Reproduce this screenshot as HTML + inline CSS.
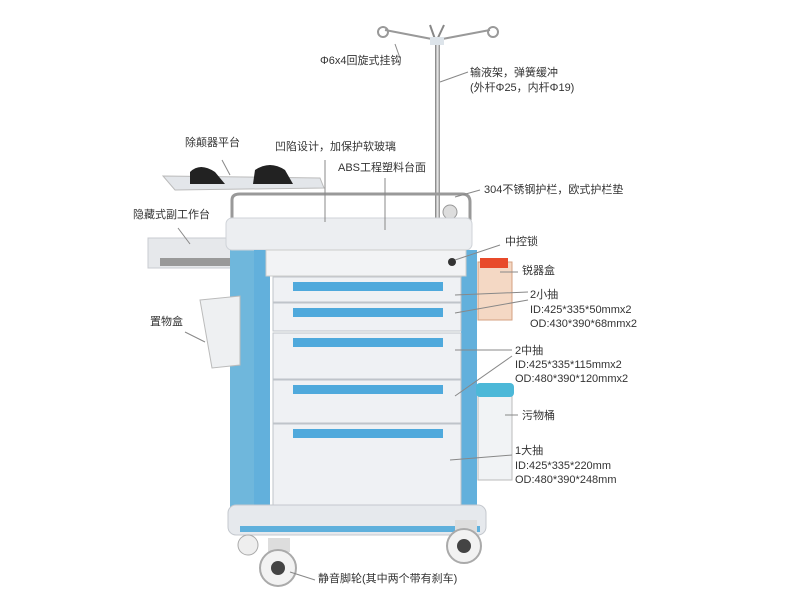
<!DOCTYPE html>
<html><head><meta charset="utf-8">
<style>
html,body{margin:0;padding:0;background:#fff;}
#c{position:relative;width:800px;height:600px;overflow:hidden;background:#fff;font-family:"Liberation Sans","Noto Sans CJK SC",sans-serif;font-size:11px;color:#333;}
.t{position:absolute;white-space:nowrap;line-height:14px;}
</style></head><body><div id="c">
<svg width="800" height="600" style="position:absolute;left:0;top:0">
<defs>
<linearGradient id="m" x1="0" x2="1"><stop offset="0" stop-color="#777"/><stop offset=".5" stop-color="#eee"/><stop offset="1" stop-color="#888"/></linearGradient>
</defs>
<!-- IV pole -->
<rect x="435" y="38" width="5" height="185" fill="url(#m)"/>
<path d="M437 40 L385 30 M437 40 L490 30" stroke="#999" stroke-width="2" fill="none"/>
<circle cx="383" cy="32" r="5" fill="none" stroke="#999" stroke-width="2"/>
<circle cx="493" cy="32" r="5" fill="none" stroke="#999" stroke-width="2"/>
<path d="M430 25 L436 42 L444 25" stroke="#888" stroke-width="2" fill="none"/>
<rect x="430" y="37" width="14" height="8" fill="#dde4ea"/>
<!-- defib tray -->
<path d="M163 176 L320 178 L324 188 L175 190 Z" fill="#e3e6ea" stroke="#bbb"/>
<path d="M190 172 q10-10 25 0 l10 12 l-35 0z M255 170 q15-10 30 0 l8 14 l-40 0z" fill="#222"/>
<!-- rail -->
<path d="M232 222 L232 200 Q232 194 240 194 L462 194 Q470 194 470 202 L470 222" stroke="#999" stroke-width="3" fill="none"/>
<circle cx="450" cy="212" r="7" fill="#ddd" stroke="#999"/>
<!-- side work tray -->
<rect x="148" y="238" width="98" height="30" fill="#e6e8eb" stroke="#c8cbd0"/>
<rect x="160" y="258" width="84" height="8" fill="#999"/>
<!-- back body -->
<rect x="230" y="245" width="28" height="262" fill="#6fb7dc"/>
<!-- top -->
<rect x="226" y="218" width="246" height="32" rx="6" fill="#eceef1" stroke="#cfd3d8"/>
<!-- columns -->
<rect x="254" y="250" width="16" height="272" fill="#62b0dc"/>
<rect x="461" y="250" width="16" height="272" fill="#62b0dc"/>
<!-- header drawer -->
<rect x="266" y="250" width="200" height="26" fill="#f2f3f5" stroke="#ccc"/>
<circle cx="452" cy="262" r="4" fill="#333"/>
<!-- drawers -->
<g fill="#eff1f4" stroke="#bfc4ca">
<rect x="273" y="277" width="188" height="25"/>
<rect x="273" y="303" width="188" height="28"/>
<rect x="273" y="333" width="188" height="46"/>
<rect x="273" y="380" width="188" height="43"/>
<rect x="273" y="424" width="188" height="100"/>
</g>
<g fill="#4fa9dc">
<rect x="293" y="282" width="150" height="9"/>
<rect x="293" y="308" width="150" height="9"/>
<rect x="293" y="338" width="150" height="9"/>
<rect x="293" y="385" width="150" height="9"/>
<rect x="293" y="429" width="150" height="9"/>
</g>
<!-- base -->
<rect x="228" y="505" width="258" height="30" rx="8" fill="#e6e9ed" stroke="#c4c8ce"/>
<rect x="240" y="526" width="240" height="6" fill="#5fb0dc"/>
<!-- wheels -->
<rect x="268" y="538" width="22" height="14" fill="#ddd"/>
<circle cx="278" cy="568" r="18" fill="#f2f2f2" stroke="#aaa" stroke-width="2"/><circle cx="278" cy="568" r="7" fill="#444"/>
<rect x="455" y="520" width="22" height="12" fill="#ddd"/>
<circle cx="464" cy="546" r="17" fill="#f2f2f2" stroke="#aaa" stroke-width="2"/><circle cx="464" cy="546" r="7" fill="#444"/>
<circle cx="248" cy="545" r="10" fill="#eee" stroke="#aaa"/>
<!-- storage box -->
<path d="M200 300 L240 296 L240 365 L212 368 Z" fill="#eef0f2" stroke="#bbb"/>
<!-- sharps basket -->
<rect x="478" y="262" width="34" height="58" fill="#f4d8c4" stroke="#d4a080"/>
<rect x="480" y="258" width="28" height="10" fill="#e84a2a"/>
<!-- trash bin -->
<rect x="478" y="388" width="34" height="92" fill="#f1f3f5" stroke="#bbb"/>
<rect x="476" y="383" width="38" height="14" rx="4" fill="#4cb8d8"/>
<!-- leader lines -->
<g stroke="#888" stroke-width="1" fill="none">
<line x1="395" y1="44" x2="400" y2="58"/>
<line x1="440" y1="82" x2="468" y2="72"/>
<line x1="222" y1="160" x2="230" y2="175"/>
<line x1="325" y1="160" x2="325" y2="222"/>
<line x1="385" y1="178" x2="385" y2="230"/>
<line x1="455" y1="197" x2="480" y2="190"/>
<line x1="178" y1="228" x2="190" y2="244"/>
<line x1="455" y1="260" x2="500" y2="245"/>
<line x1="500" y1="272" x2="518" y2="272"/>
<line x1="455" y1="295" x2="528" y2="292"/>
<line x1="455" y1="313" x2="528" y2="300"/>
<line x1="185" y1="332" x2="205" y2="342"/>
<line x1="455" y1="350" x2="512" y2="350"/>
<line x1="455" y1="396" x2="512" y2="356"/>
<line x1="505" y1="415" x2="518" y2="415"/>
<line x1="450" y1="460" x2="512" y2="455"/>
<line x1="290" y1="572" x2="315" y2="580"/>
</g>
</svg>
<div class="t" style="left:320px;top:54px">Φ6x4回旋式挂钩</div>
<div class="t" style="left:470px;top:66px">输液架，弹簧缓冲</div>
<div class="t" style="left:470px;top:81px">(外杆Φ25，内杆Φ19)</div>
<div class="t" style="left:185px;top:136px">除颠器平台</div>
<div class="t" style="left:275px;top:140px">凹陷设计，加保护软玻璃</div>
<div class="t" style="left:338px;top:161px">ABS工程塑料台面</div>
<div class="t" style="left:484px;top:183px">304不锈钢护栏，欧式护栏垫</div>
<div class="t" style="left:133px;top:208px">隐藏式副工作台</div>
<div class="t" style="left:505px;top:235px">中控锁</div>
<div class="t" style="left:522px;top:264px">锐器盒</div>
<div class="t" style="left:530px;top:288px">2小抽</div>
<div class="t" style="left:530px;top:303px">ID:425*335*50mmx2</div>
<div class="t" style="left:530px;top:317px">OD:430*390*68mmx2</div>
<div class="t" style="left:150px;top:315px">置物盒</div>
<div class="t" style="left:515px;top:344px">2中抽</div>
<div class="t" style="left:515px;top:358px">ID:425*335*115mmx2</div>
<div class="t" style="left:515px;top:372px">OD:480*390*120mmx2</div>
<div class="t" style="left:522px;top:409px">污物桶</div>
<div class="t" style="left:515px;top:444px">1大抽</div>
<div class="t" style="left:515px;top:459px">ID:425*335*220mm</div>
<div class="t" style="left:515px;top:473px">OD:480*390*248mm</div>
<div class="t" style="left:318px;top:572px">静音脚轮(其中两个带有刹车)</div>
</div></body></html>
